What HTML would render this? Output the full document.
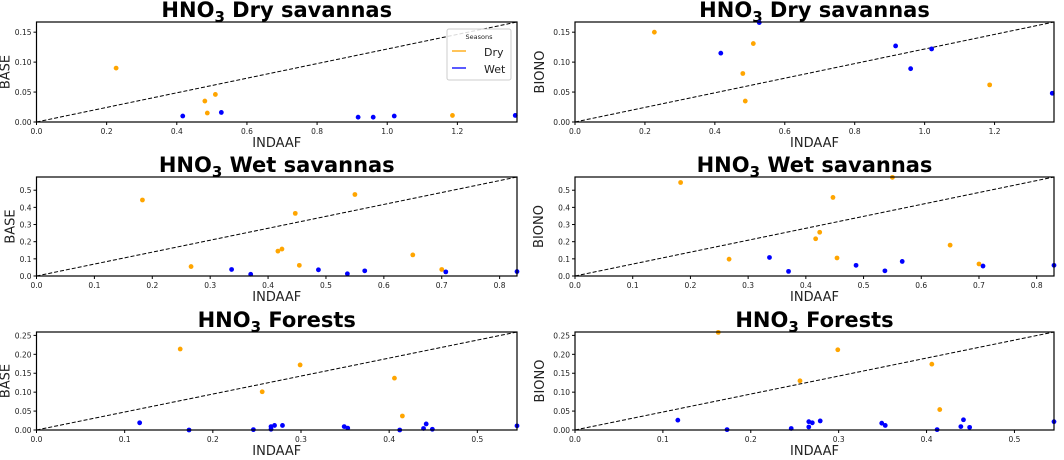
<!DOCTYPE html>
<html><head><meta charset="utf-8"><style>
body{margin:0;background:#fff;width:1064px;height:456px;overflow:hidden;font-family:"DejaVu Sans","Liberation Sans",sans-serif}
</style></head><body>
<svg id="fig" width="1064" height="456" xmlns="http://www.w3.org/2000/svg" font-family="DejaVu Sans, Liberation Sans, sans-serif"></svg>
<script>
const ns="http://www.w3.org/2000/svg";
// Panel data
const p1DryX=[0.227,0.48,0.487,0.51,1.186];
const p1DryBase=[0.09,0.035,0.015,0.046,0.011];
const p1DryBiono=[0.15,0.081,0.035,0.131,0.062];
const p1WetX=[0.417,0.527,0.917,0.96,1.02,1.365];
const p1WetBase=[0.01,0.016,0.008,0.008,0.01,0.011];
const p1WetBiono=[0.115,0.166,0.127,0.089,0.122,0.048];
const p2DryX=[0.183,0.267,0.417,0.424,0.447,0.454,0.55,0.65,0.70];
const p2DryBase=[0.443,0.055,0.145,0.157,0.365,0.062,0.475,0.123,0.038];
const p2DryBiono=[0.545,0.098,0.217,0.255,0.458,0.105,0.575,0.18,0.07];
const p2WetX=[0.337,0.37,0.487,0.537,0.567,0.707,0.83];
const p2WetBase=[0.038,0.01,0.036,0.013,0.03,0.024,0.026];
const p2WetBiono=[0.108,0.027,0.062,0.03,0.085,0.058,0.062];
const p3DryX=[0.163,0.256,0.299,0.406,0.415];
const p3DryBase=[0.214,0.101,0.172,0.137,0.037];
const p3DryBiono=[0.258,0.13,0.212,0.174,0.054];
const p3WetX=[0.117,0.173,0.246,0.266,0.266,0.27,0.279,0.349,0.353,0.412,0.439,0.442,0.449,0.545];
const p3WetBase=[0.019,0.0,0.001,0.009,0.002,0.012,0.012,0.009,0.005,0.0,0.004,0.016,0.002,0.011];
const p3WetBiono=[0.026,0.001,0.004,0.008,0.022,0.019,0.024,0.018,0.012,0.001,0.009,0.027,0.007,0.022];
const xTicks1=[0,0.2,0.4,0.6,0.8,1.0,1.2], yTicks1=[0,0.05,0.10,0.15];
const xTicks2=[0,0.1,0.2,0.3,0.4,0.5,0.6,0.7,0.8], yTicks2=[0,0.1,0.2,0.3,0.4,0.5];
const xTicks3=[0,0.1,0.2,0.3,0.4,0.5], yTicks3=[0,0.05,0.10,0.15,0.20,0.25];

const svg=document.getElementById('fig');
function mk(t,a,p){const e=document.createElementNS(ns,t);for(const k in a)e.setAttribute(k,a[k]);(p||svg).appendChild(e);return e;}

function panel(o){
  const g=mk('g',{});
  
  
  const sx=v=>o.x0+(v/o.xmax)*(o.x1-o.x0);
  const sy=v=>o.y1-(v/o.ymax)*(o.y1-o.y0);
  const t=mk('text',{x:(o.x0+o.x1)/2,y:o.y0-5,'text-anchor':'middle','font-size':21,'font-weight':'bold',fill:'#000'},g);
  
  
  t.innerHTML='HNO<tspan font-size="15" dy="5">3</tspan><tspan dy="-5"> '+o.title+'</tspan>';
  const d=mk('line',{x1:sx(0),y1:sy(0),x2:o.x1,y2:o.y0,stroke:'#000','stroke-width':1,'stroke-dasharray':'4,2'},g);
  
  
  o.dryX.forEach((v,i)=>{const c=mk('circle',{cx:sx(v),cy:sy(o.dryY[i]),r:2.4,fill:'#ffa500'},g);
    
    });
  o.wetX.forEach((v,i)=>{const c=mk('circle',{cx:sx(v),cy:sy(o.wetY[i]),r:2.4,fill:'#0000ff'},g);
    
    });
  mk('rect',{x:o.x0,y:o.y0,width:o.x1-o.x0,height:o.y1-o.y0,fill:'none',stroke:'#000','stroke-width':1.2},g);
  o.xt.forEach(v=>{const x=sx(v);mk('line',{x1:x,x2:x,y1:o.y1,y2:o.y1+3,stroke:'#000'},g);
    const tx=mk('text',{x:x,y:o.y1+12,'text-anchor':'middle','font-size':7.5,fill:'#222'},g);tx.textContent=o.xf(v);
    
    });
  o.yt.forEach(v=>{const y=sy(v);mk('line',{x1:o.x0-3,x2:o.x0,y1:y,y2:y,stroke:'#000'},g);
    const tx=mk('text',{x:o.x0-5,y:y+3,'text-anchor':'end','font-size':7.5,fill:'#222'},g);tx.textContent=o.yf(v);
    
    });
  const xl=mk('text',{x:(o.x0+o.x1)/2,y:o.y1+25,'text-anchor':'middle','font-size':13,fill:'#222'},g);xl.textContent='INDAAF';
  
  
  const yl=mk('text',{x:0,y:0,'text-anchor':'middle','font-size':13,fill:'#222',transform:`translate(${o.x0-o.ylo},${(o.y0+o.y1)/2}) rotate(-90)`},g);yl.textContent=o.ylab;
  
  
}
const f2=v=>v.toFixed(2), f1=v=>v.toFixed(1);
const L={x0:36.5,x1:517},R={x0:575,x1:1054};
const rows=[{y0:22,y1:122,xmax:1.37,ymax:0.167,xt:xTicks1,yt:yTicks1,xf:f1,yf:f2,title:'Dry savannas',d:[p1DryX,p1DryBase,p1DryBiono,p1WetX,p1WetBase,p1WetBiono],lo:[27,27]},
 {y0:177,y1:276,xmax:0.83,ymax:0.577,xt:xTicks2,yt:yTicks2,xf:f1,yf:f1,title:'Wet savannas',d:[p2DryX,p2DryBase,p2DryBiono,p2WetX,p2WetBase,p2WetBiono],lo:[22,28]},
 {y0:332,y1:430,xmax:0.545,ymax:0.259,xt:xTicks3,yt:yTicks3,xf:f1,yf:f2,title:'Forests',d:[p3DryX,p3DryBase,p3DryBiono,p3WetX,p3WetBase,p3WetBiono],lo:[27,27]}];
rows.forEach((r,i)=>{
  panel(Object.assign({},L,r,{name:'panel-base-'+(i+1),dryX:r.d[0],dryY:r.d[1],wetX:r.d[3],wetY:r.d[4],ylab:'BASE',ylo:r.lo[0]}));
  panel(Object.assign({},R,r,{name:'panel-biono-'+(i+1),dryX:r.d[0],dryY:r.d[2],wetX:r.d[3],wetY:r.d[5],ylab:'BIONO',ylo:r.lo[1]+4}));
});
const lg=mk('g',{});


mk('rect',{x:447,y:29,width:64,height:51,rx:2,fill:'#fff','fill-opacity':0.85,stroke:'#ccc'},lg);
const lt=mk('text',{x:479,y:39,'text-anchor':'middle','font-size':6.5,fill:'#222'},lg);lt.textContent='Seasons';
mk('line',{x1:452,x2:466,y1:51,y2:51,stroke:'#ffa500','stroke-width':1.3},lg);
mk('line',{x1:452,x2:466,y1:68,y2:68,stroke:'#0000ff','stroke-width':1.3},lg);
const e1=mk('text',{x:484,y:56,'font-size':11,fill:'#222'},lg);e1.textContent='Dry';


const e2=mk('text',{x:484,y:73,'font-size':11,fill:'#222'},lg);e2.textContent='Wet';


</script>
</body></html>
